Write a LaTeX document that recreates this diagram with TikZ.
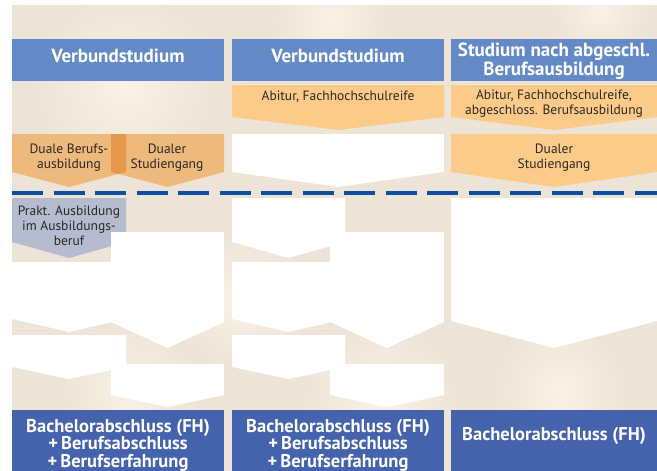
\documentclass[tikz,border=0pt]{standalone}
\usepackage{fontspec}
\setmainfont{PT Sans}
\definecolor{bgc}{HTML}{EDE3D6}
\definecolor{bgl}{HTML}{FAF2E7}
\definecolor{hdr}{HTML}{6389C7}
\definecolor{bot}{HTML}{4563AD}
\definecolor{orl}{HTML}{FCCB89}
\definecolor{orm}{HTML}{EDB97C}
\definecolor{ord}{HTML}{E8984C}
\definecolor{gry}{HTML}{B6BCD0}
\definecolor{dsh}{HTML}{0B4EA2}
\definecolor{txt}{HTML}{2B2723}
\newcommand\pentshape[6]{\fill[#1] (#2,#4) -- (#3,#4) -- (#3,#5) -- ({(#2+#3)/2},#6) -- (#2,#5) -- cycle;}
\tikzset{
  headtxt/.style={text=white, font=\fontsize{19}{18.5}\bfseries\selectfont, align=center, inner sep=0pt},
  bottxt/.style={text=white, font=\fontsize{18.5}{17.5}\bfseries\selectfont, align=center, inner sep=0pt},
  boxtxt/.style={text=txt, font=\fontsize{13.5}{14.5}\selectfont, align=center, inner sep=0pt},
  dashline/.style={draw=dsh, line width=4pt, dash pattern=on 31pt off 10.53pt}
}
\begin{document}
\begin{tikzpicture}[x=1pt,y=-1pt]
\useasboundingbox (0,0) rectangle (657,471);
\fill[white] (0,0) rectangle (657,471);
% background
\begin{scope}
\clip (12,5) rectangle (657,471);
\fill[bgc] (12,5) rectangle (657,471);
\shade[inner color=bgl, outer color=bgc] (125,85) circle (95pt);
\shade[inner color=bgl, outer color=bgc] (330,20) circle (60pt);
\shade[inner color=bgl, outer color=bgc] (600,10) circle (50pt);
\shade[inner color=bgl, outer color=bgc] (240,300) circle (70pt);
\shade[inner color=bgl, outer color=bgc] (380,400) circle (80pt);
\shade[inner color=bgl, outer color=bgc] (560,390) circle (70pt);
\shade[inner color=bgl, outer color=bgc] (130,390) circle (70pt);
\end{scope}
% headers
\fill[hdr] (12,39) rectangle (224,81);
\fill[hdr] (232,39) rectangle (444,81);
\fill[hdr] (451,39) rectangle (657,81);
% row 1
\pentshape{orl}{232}{444}{85}{117}{130}
\pentshape{orl}{451}{657}{85}{117}{130}
% row 2
\pentshape{orm}{12}{126}{134}{172}{187}
\pentshape{orm}{111}{224}{134}{172}{187}
\fill[ord] (111,134) -- (126,134) -- (126,172) -- (118.5,174) -- (111,172) -- cycle;
\pentshape{white}{232}{444}{134}{172}{187}
\pentshape{orl}{451}{657}{134}{172}{187}
% dashed separator
\coordinate (dl) at (12,193);
\coordinate (dr) at (657,193);
\draw[dashline] (dl) -- (dr);
% column 1 lower
\pentshape{gry}{12}{126}{198}{242}{258}
\pentshape{white}{111}{224}{232}{322}{348}
\pentshape{white}{12}{126}{262}{319}{332}
\pentshape{white}{12}{126}{335}{367}{379}
\pentshape{white}{111}{224}{364}{395}{407}
% column 2 lower
\pentshape{white}{232}{345}{198}{242}{258}
\pentshape{white}{330}{444}{232}{322}{348}
\pentshape{white}{232}{345}{262}{319}{332}
\pentshape{white}{232}{345}{335}{367}{379}
\pentshape{white}{330}{444}{364}{395}{407}
% column 3 lower
\pentshape{white}{451}{657}{198}{321}{348}
% bottom boxes
\fill[bot] (12,410) rectangle (224,471);
\fill[bot] (232,410) rectangle (444,471);
\fill[bot] (451,410) rectangle (657,471);
% texts (anchor=base is the baseline of the last line)
\node[headtxt, anchor=base] (h1) at (118,62) {Verbundstudium};
\node[headtxt, anchor=base] (h2) at (338,62) {Verbundstudium};
\node[headtxt, anchor=base] (h3) at (554,75) {Studium nach abgeschl.\\Berufsausbildung};
\node[boxtxt, anchor=base] (a2) at (338,100) {Abitur, Fachhochschulreife};
\node[boxtxt, anchor=base] (a3) at (554,114) {Abitur, Fachhochschulreife,\\abgeschloss. Berufsausbildung};
\node[boxtxt, anchor=base] (d1) at (69,168) {Duale Berufs-\\ausbildung};
\node[boxtxt, anchor=base] (d2) at (167,168) {Dualer\\Studiengang};
\node[boxtxt, anchor=base] (d3) at (554,168) {Dualer\\Studiengang};
\node[boxtxt, anchor=base, font=\fontsize{13.5}{15}\selectfont] (p1) at (69,245) {Prakt. Ausbildung\\im Ausbildungs-\\beruf};
\node[bottxt, anchor=base] (b1) at (118,467) {Bachelorabschluss (FH)\\+\,Berufsabschluss\\+\,Berufserfahrung};
\node[bottxt, anchor=base] (b2) at (338,467) {Bachelorabschluss (FH)\\+\,Berufsabschluss\\+\,Berufserfahrung};
\node[bottxt, anchor=base] (b3) at (554,440) {Bachelorabschluss (FH)};
\end{tikzpicture}
\end{document}
